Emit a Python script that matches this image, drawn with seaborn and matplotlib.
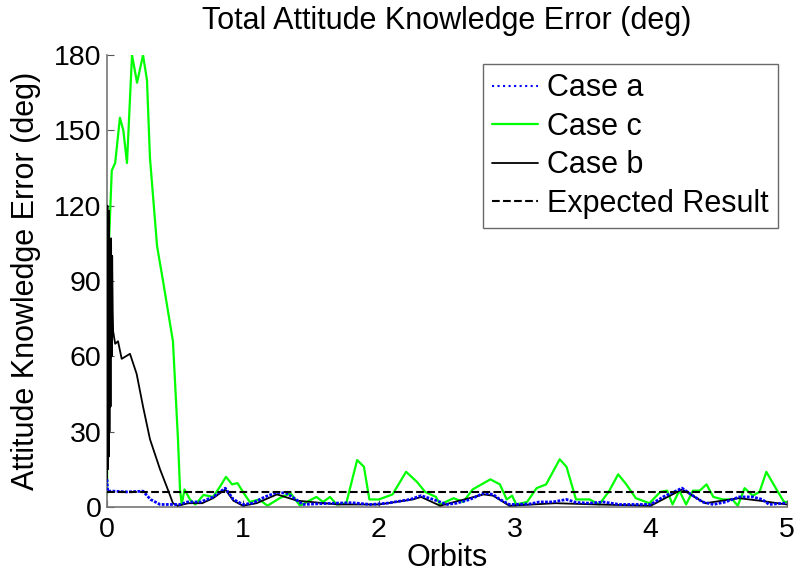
import matplotlib
matplotlib.use("Agg")
import matplotlib.pyplot as plt
import seaborn as sns
import pandas as pd

# ---- data ----
case_c_x = [0.0, 0.005, 0.01, 0.015, 0.035, 0.06, 0.095, 0.12, 0.147, 0.184, 0.221, 0.265, 0.294,
            0.316, 0.368, 0.412, 0.485, 0.522, 0.537, 0.55, 0.57, 0.61, 0.65, 0.71, 0.78, 0.83,
            0.875, 0.92, 0.96, 1.0, 1.05, 1.12, 1.18, 1.27, 1.35, 1.42, 1.47, 1.54, 1.59, 1.64,
            1.69, 1.76, 1.84, 1.89, 1.93, 2.0, 2.10, 2.20, 2.28, 2.34, 2.42, 2.45, 2.55, 2.62,
            2.69, 2.82, 2.89, 2.94, 2.98, 3.01, 3.09, 3.16, 3.23, 3.33, 3.38, 3.45, 3.55, 3.62,
            3.69, 3.76, 3.82, 3.89, 3.99, 4.07, 4.12, 4.16, 4.21, 4.26, 4.31, 4.36, 4.41, 4.46,
            4.53, 4.60, 4.64, 4.69, 4.75, 4.80, 4.85, 4.93, 4.98, 5.0]
case_c_y = [5, 40, 80, 106, 134, 137, 155, 150, 137, 180, 169, 180, 170,
            139, 104, 90, 66, 27, 7, 1, 7, 3, 1, 4.8, 4, 8,
            12, 9, 9.5, 6, 2, 3, 0.5, 3.5, 5.5, 0.5, 2, 4, 2, 4,
            1, 1.5, 18.7, 16, 3, 3, 5, 14, 10, 6, 4, 1, 3.5, 2,
            7, 11, 9, 3, 4.5, 1, 2, 7.5, 9, 19, 16, 3, 3, 1,
            6, 13, 9, 3.5, 1.5, 6, 6.5, 1, 6.5, 1, 6.5, 6.5, 9, 4,
            3, 3, 0.5, 7.5, 4.5, 6, 14, 6.5, 2, 2]

case_a_x = [0.0, 0.005, 0.05, 0.15, 0.265, 0.32, 0.39, 0.54, 0.59, 0.69, 0.78, 0.87, 0.93,
            1.0, 1.07, 1.16, 1.25, 1.32, 1.39, 1.44, 1.66, 1.8, 1.94, 2.06, 2.23, 2.31, 2.4,
            2.5, 2.57, 2.67, 2.77, 2.84, 2.89, 2.96, 3.11, 3.18, 3.28, 3.38, 3.45, 3.55, 3.65,
            3.77, 4.0, 4.09, 4.23, 4.31, 4.38, 4.46, 4.55, 4.65, 4.75, 4.82, 4.87, 4.98, 5.0]
case_a_y = [11, 6.3, 6.3, 6.0, 6.3, 3, 1, 1, 2, 2, 4, 7.5, 3,
            1, 1.5, 4, 5.8, 5.5, 3, 1, 1.5, 1.7, 1, 1.5, 3, 4.5, 3,
            1, 1.5, 3, 5.5, 5, 3, 1, 1.2, 2, 2, 3, 1.8, 1.5, 2,
            1, 1, 4, 7.5, 4.5, 2, 1, 2, 4, 4, 3, 1, 1.5, 1.5]

case_b_x = [0.0, 0.003, 0.006, 0.009, 0.012, 0.015, 0.018, 0.022, 0.026, 0.03, 0.034, 0.038,
            0.042, 0.045, 0.06, 0.081, 0.108, 0.169, 0.218, 0.265, 0.316, 0.39, 0.44, 0.485,
            0.52, 0.6, 0.7, 0.78, 0.87, 0.93, 1.0, 1.1, 1.25, 1.4, 1.7, 2.0, 2.25, 2.31, 2.45,
            2.77, 2.84, 2.96, 3.3, 3.6, 4.0, 4.23, 4.4, 4.65, 4.8, 5.0]
case_b_y = [10, 120, 15, 110, 20, 118, 30, 100, 40, 107, 60, 100,
            78, 70, 65, 66, 59, 61, 53, 40, 27, 15, 8, 1.5,
            0.5, 1.5, 1.5, 3.5, 7, 2.5, 0.5, 1.5, 5, 2.5, 1, 1, 3, 4, 0.5,
            5, 4.5, 0.5, 1.5, 1, 0.5, 7, 1.5, 3.5, 2.5, 1]

expected_x = [0.0, 5.0]
expected_y = [6.0, 6.0]

x_ticks = [0, 1, 2, 3, 4, 5]
y_ticks = [0, 30, 60, 90, 120, 150, 180]

# ---- plotting ----
sns.set_style("white")
plt.rcParams['font.family'] = ['Liberation Sans', 'DejaVu Sans']
plt.rcParams['text.color'] = 'black'
plt.rcParams['axes.labelcolor'] = 'black'

fig = plt.figure(figsize=(7.95, 5.75), dpi=100)
ax = fig.add_axes([0.1346, 0.1183, 0.855, 0.786])

df_a = pd.DataFrame({"x": case_a_x, "y": case_a_y})
df_b = pd.DataFrame({"x": case_b_x, "y": case_b_y})
df_c = pd.DataFrame({"x": case_c_x, "y": case_c_y})
df_e = pd.DataFrame({"x": expected_x, "y": expected_y})

sns.lineplot(data=df_a, x="x", y="y", ax=ax, color="#0000ff", linestyle=(0, (1, 0.5)),
             linewidth=2.0, label="Case a", zorder=4, estimator=None, sort=False)
sns.lineplot(data=df_c, x="x", y="y", ax=ax, color="#00ff00", linewidth=1.6,
             label="Case c", zorder=2, estimator=None, sort=False)
sns.lineplot(data=df_b, x="x", y="y", ax=ax, color="black", linewidth=1.3,
             label="Case b", zorder=3, estimator=None, sort=False)
sns.lineplot(data=df_e, x="x", y="y", ax=ax, color="black", linestyle="--", linewidth=1.5,
             label="Expected Result", zorder=5, estimator=None, sort=False)

ax.set_xlim(0, 5)
ax.set_ylim(0, 180)
ax.set_xticks(x_ticks)
ax.set_yticks(y_ticks)
ax.tick_params(axis="both", direction="in", length=5, width=0.8, colors="#555555",
               labelcolor="black", labelsize=20.5, left=True, bottom=True, pad=4)
ax.tick_params(axis="x", pad=7)
for s in ["top", "right"]:
    ax.spines[s].set_visible(False)
for s in ["left", "bottom"]:
    ax.spines[s].set_color("#777777")
    ax.spines[s].set_linewidth(1.2)

ax.set_title("Total Attitude Knowledge Error (deg)", fontsize=22, pad=19, color="black")
ax.set_xlabel("Orbits", fontsize=22, labelpad=0)
ax.set_ylabel("Attitude Knowledge Error (deg)", fontsize=22, labelpad=9)

leg = ax.legend(loc="upper right", fontsize=22, frameon=True, fancybox=False,
                handlelength=1.5, handletextpad=0.3, borderpad=0.3, labelspacing=0.28,
                borderaxespad=0.3)
leg.get_frame().set_edgecolor("#444444")
leg.get_frame().set_linewidth(1.0)
for line in leg.get_lines():
    if line.get_label() == "Case a":
        line.set_linewidth(1.5)
        line.set_linestyle(":")

fig.savefig("out.png", dpi=100)
